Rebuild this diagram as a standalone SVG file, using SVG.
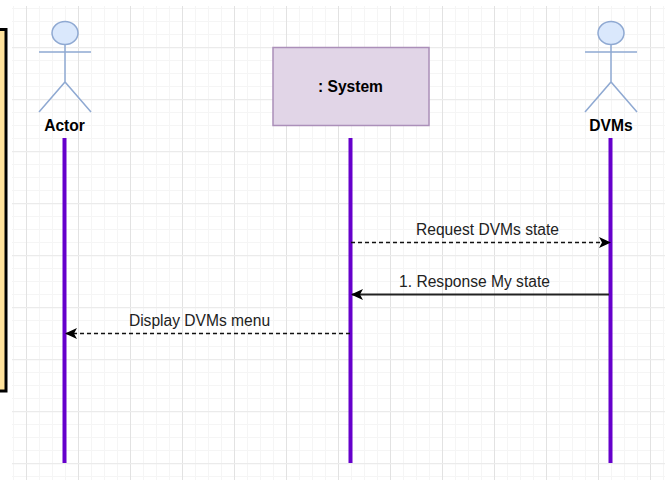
<svg xmlns="http://www.w3.org/2000/svg" width="672" height="480" viewBox="0 0 672 480">
<style>
text{font-family:"Liberation Sans",Arial,sans-serif;font-size:15.6px;fill:#111;text-anchor:middle}
.b{font-weight:bold;fill:#000}
.l{fill:#222}
.act{fill:none;stroke:#8fa9d2;stroke-width:1.5}
.head{fill:#dae8fc;stroke:#8fa9d2;stroke-width:1.5}
.life{stroke:#6600cc;stroke-width:4;fill:none}
.msg{stroke:#111;stroke-width:1.4;fill:none}
.solid{stroke:#222;stroke-width:1.8}
.dash{stroke-dasharray:4 3}
</style>
<defs>
<pattern id="minor" x="0" y="8" width="13" height="13" patternUnits="userSpaceOnUse"><path d="M0.5 0V13M0 0.5H13" fill="none" stroke="#f5f5f5" stroke-width="1"/></pattern>
<pattern id="major" x="26" y="47" width="52" height="52" patternUnits="userSpaceOnUse"><path d="M0.5 0V52" fill="none" stroke="#e2e2e2" stroke-width="1"/><path d="M0 0.5H52" fill="none" stroke="#ebebeb" stroke-width="1.4"/></pattern>
<marker id="ah" viewBox="0 0 12 11" refX="11" refY="5.500" markerWidth="12" markerHeight="11" orient="auto" markerUnits="userSpaceOnUse"><path d="M0 0L12 5.500L0 11L3 5.500Z" fill="#000"/></marker>
</defs>
<rect width="672" height="480" fill="#fff"/>
<g id="grid">
<rect x="12" y="6" width="653" height="474" fill="url(#minor)"/>
<rect x="12" y="6" width="653" height="474" fill="url(#major)"/>
</g>
<g id="note"><rect x="-4" y="29.500" width="10" height="361.500" fill="#ffe29c" stroke="#000" stroke-width="3"/></g>
<g id="actor">
<ellipse class="head" cx="65" cy="33" rx="13" ry="11.500"/>
<path class="act" d="M65 44.500V82M39 52H91M39 112L65 82L91 112"/>
<text class="b" x="64.500" y="130.500">Actor</text>
</g>
<g id="system">
<rect x="273" y="47.500" width="156" height="78" fill="#e1d5e7" stroke="#ab8fb9" stroke-width="1.500"/>
<text class="b" x="350.500" y="91.500">: System</text>
</g>
<g id="dvms">
<ellipse class="head" cx="611" cy="33" rx="13" ry="11.500"/>
<path class="act" d="M611 44.500V82M585 52H637M585 112L611 82L637 112"/>
<text class="b" x="611" y="130.500">DVMs</text>
</g>
<g id="connectors">
<path class="life" d="M64.500 138V463"/>
<path class="life" d="M350.500 138V463"/>
<path class="life" d="M610.500 138V463"/>
<path class="msg dash" d="M351 242.500H610" marker-end="url(#ah)"/>
<path class="msg solid" d="M609 294.500H352" marker-end="url(#ah)"/>
<path class="msg dash" d="M350 333.500H66" marker-end="url(#ah)"/>
</g>
<g id="labels">
<text class="l" x="487.500" y="234.500">Request DVMs state</text>
<text class="l" x="474.500" y="286.500">1. Response My state</text>
<text class="l" x="199.500" y="325.500">Display DVMs menu</text>
</g>
</svg>
